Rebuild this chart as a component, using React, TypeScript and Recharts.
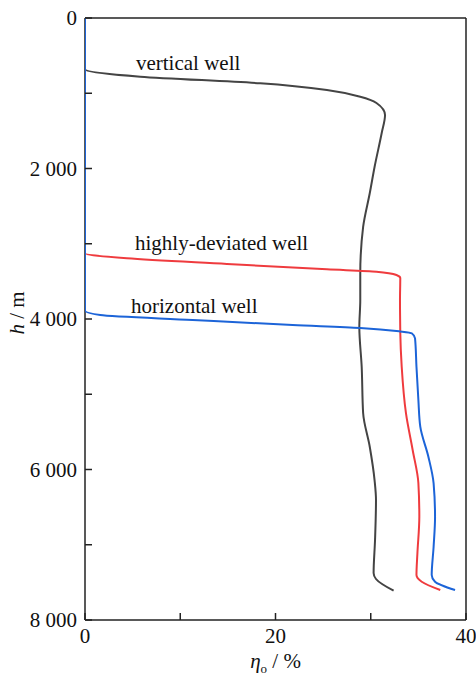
import React from 'react';
import { ComposedChart, Scatter, XAxis, YAxis, ReferenceLine, ReferenceDot, Label } from 'recharts';

// tick values
const xTicks = [0, 10, 20, 30, 40];
const xLabelled = [0, 20, 40];
const yTicks = [0, 1000, 2000, 3000, 4000, 5000, 6000, 7000, 8000];
const yLabelled = [0, 2000, 4000, 6000, 8000];

// vertical well
const verticalEta = [0, 0, 5.8, 18.4, 25.4, 28.9, 30.6, 31.5, 31.15, 30.4, 29.9, 29.2, 28.9, 28.9, 28.8, 29.05, 29.2, 29.9, 30.4, 30.55, 30.45, 30.3, 30.55, 32.4];
const verticalH = [0, 682, 780, 868, 957, 1046, 1130, 1289, 1528, 1980, 2326, 2777, 3389, 3748, 4106, 4638, 5249, 5701, 6140, 6405, 6937, 7375, 7455, 7611];

// highly-deviated well
const deviatedEta = [0, 0, 4.4, 14.9, 25.4, 30.6, 32.7, 33.1, 33.07, 33.1, 33.25, 33.7, 34.4, 35.0, 35.1, 34.9, 34.8, 35.35, 37.3];
const deviatedH = [0, 3127, 3194, 3269, 3340, 3371, 3415, 3455, 3748, 4186, 4634, 5254, 5741, 6180, 6627, 7110, 7402, 7491, 7601];

// horizontal well
const horizontalEta = [0, 0, 1.6, 11.3, 21.8, 28.9, 33.07, 34.3, 34.65, 34.8, 35.0, 35.2, 36.05, 36.6, 36.75, 36.6, 36.4, 36.75, 38.85];
const horizontalH = [0, 3889, 3947, 4013, 4080, 4118, 4165, 4190, 4257, 4634, 5076, 5431, 5830, 6184, 6627, 7026, 7402, 7491, 7601];

// annotations
const annotations = [
  { text: 'vertical well', eta: 5.35, h: 691 },
  { text: 'highly-deviated well', eta: 5.25, h: 3083 },
  { text: 'horizontal well', eta: 4.83, h: 3916 },
];

const zip = (etas: number[], hs: number[]) => etas.map((e, i) => ({ eta: e, h: hs[i] }));
const verticalData = zip(verticalEta, verticalH);
const deviatedData = zip(deviatedEta, deviatedH);
const horizontalData = zip(horizontalEta, horizontalH);

const FONT = '"Liberation Serif", "Times New Roman", serif';
const AXIS = '#222';

const formatH = (v: number) => {
  if (v === 0) return '0';
  const s = String(v);
  return s.slice(0, s.length - 3) + ' ' + s.slice(-3);
};

const XTick = (props: any) => {
  const { x, y, payload } = props;
  const v = payload.value;
  return (
    <g>
      <line x1={x} y1={y} x2={x} y2={y - 7} stroke={AXIS} strokeWidth={1.5} />
      {xLabelled.includes(v) && (
        <text x={x} y={y + 23} textAnchor="middle" fontFamily={FONT} fontSize={21} fill="#111">
          {v}
        </text>
      )}
    </g>
  );
};

const YTick = (props: any) => {
  const { x, y, payload } = props;
  const v = payload.value;
  return (
    <g>
      <line x1={x} y1={y} x2={x + 7} y2={y} stroke={AXIS} strokeWidth={1.5} />
      {yLabelled.includes(v) && (
        <text x={x - 8} y={y + 7} textAnchor="end" fontFamily={FONT} fontSize={21} fill="#111">
          {formatH(v)}
        </text>
      )}
    </g>
  );
};

const renderNothing = () => <g />;

const annotationLabel = (text: string) => (props: any) => {
  const { viewBox } = props;
  return (
    <text x={viewBox.x} y={viewBox.y} textAnchor="start" fontFamily={FONT} fontSize={21} fill="#111">
      {text}
    </text>
  );
};

const YTitle = (props: any) => {
  const { viewBox } = props;
  const cx = viewBox.x + 24;
  const cy = viewBox.y + viewBox.height / 2 - 6;
  return (
    <text x={cx} y={cy} transform={`rotate(-90, ${cx}, ${cy})`} textAnchor="middle" fontFamily={FONT} fontSize={21} fill="#111">
      <tspan fontStyle="italic">h</tspan>
      <tspan> / m</tspan>
    </text>
  );
};

const XTitle = (props: any) => {
  const { viewBox } = props;
  const cx = viewBox.x + viewBox.width / 2;
  const cy = viewBox.y + 48;
  return (
    <text x={cx} y={cy} textAnchor="middle" fontFamily={FONT} fontSize={21} fill="#111">
      <tspan fontStyle="italic">η</tspan>
      <tspan fontSize={13} dy={5}>o</tspan>
      <tspan dy={-5}> / %</tspan>
    </text>
  );
};

export default function App() {
  return (
    <div style={{ position: 'absolute', left: 0, top: 0, width: 476, height: 677, background: '#fff' }}>
      <ComposedChart width={476} height={677} margin={{ top: 18, right: 10, bottom: 0, left: 0 }}>
        <XAxis
          type="number"
          dataKey="eta"
          domain={[0, 40]}
          ticks={xTicks}
          interval={0}
          tickSize={0}
          tickMargin={0}
          tickLine={false}
          tick={XTick}
          height={57}
          axisLine={{ stroke: AXIS, strokeWidth: 1.5 }}
          allowDataOverflow
        >
          <Label content={XTitle} />
        </XAxis>
        <YAxis
          type="number"
          dataKey="h"
          domain={[0, 8000]}
          reversed
          ticks={yTicks}
          interval={0}
          tickSize={0}
          tickMargin={0}
          tickLine={false}
          tick={YTick}
          width={85}
          axisLine={{ stroke: AXIS, strokeWidth: 1.5 }}
          allowDataOverflow
        >
          <Label content={YTitle} />
        </YAxis>
        <ReferenceLine y={0} stroke={AXIS} strokeWidth={1.5} />
        <ReferenceLine x={40} stroke={AXIS} strokeWidth={1.5} />
        <Scatter
          data={verticalData}
          line={{ stroke: '#444444', strokeWidth: 2 }}
          lineJointType="monotoneY"
          shape={renderNothing}
          isAnimationActive={false}
        />
        <Scatter
          data={deviatedData}
          line={{ stroke: '#ef3b3e', strokeWidth: 2 }}
          lineJointType="monotoneY"
          shape={renderNothing}
          isAnimationActive={false}
        />
        <Scatter
          data={horizontalData}
          line={{ stroke: '#1c64d8', strokeWidth: 2 }}
          lineJointType="monotoneY"
          shape={renderNothing}
          isAnimationActive={false}
        />
        {annotations.map((a) => (
          <ReferenceDot
            key={a.text}
            x={a.eta}
            y={a.h}
            r={0}
            fill="none"
            stroke="none"
            label={{ content: annotationLabel(a.text) }}
          />
        ))}
      </ComposedChart>
    </div>
  );
}
